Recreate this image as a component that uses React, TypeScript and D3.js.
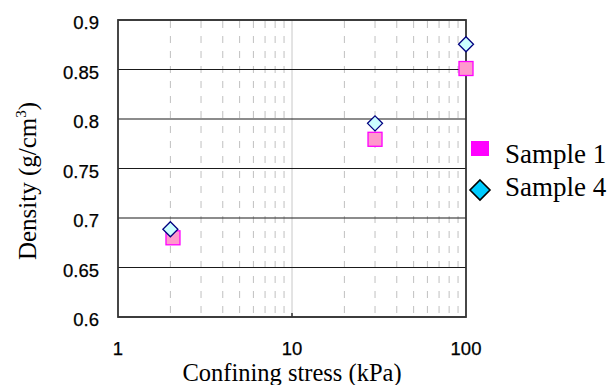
import React from "react";
import * as d3 from "d3";

const yTicks = [0.6, 0.65, 0.7, 0.75, 0.8, 0.85, 0.9];
const yTickLabels = ["0.6", "0.65", "0.7", "0.75", "0.8", "0.85", "0.9"];
const xTicks = [1, 10, 100];
const xTickLabels = ["1", "10", "100"];

const sample1X = [2.07, 30, 100];
const sample1Y = [0.68, 0.7795, 0.851];
const sample4X = [2, 30, 100];
const sample4Y = [0.6886, 0.7956, 0.8755];

const seriesNames = ["Sample 1", "Sample 4"];

const W = 612;
const H = 385;
const L = 118, R = 466, T = 20, B = 317;

export default function App() {
  const x = d3.scaleLog().domain([1, 100]).range([L, R]);
  const y = d3.scaleLinear().domain([0.6, 0.9]).range([B, T]);
  const minor = x.ticks().filter((v) => v !== 1 && v !== 10 && v !== 100);
  const sans = "'Liberation Sans', Arial, sans-serif";
  const serif = "'Liberation Serif', 'Times New Roman', serif";
  const diamond = (cx: number, cy: number, r: number) =>
    `M${cx},${cy - r}L${cx + r},${cy}L${cx},${cy + r}L${cx - r},${cy}Z`;

  return (
    <svg width={W} height={H} style={{ position: "absolute", left: 0, top: 0 }}>
      <rect x={0} y={0} width={W} height={H} fill="#fff" />
      {/* minor vertical dashed gridlines */}
      {minor.map((v) => (
        <line key={"m" + v} x1={x(v)} x2={x(v)} y1={T + 1} y2={B} stroke="#c0c0c0" strokeWidth={1} strokeDasharray="7 8" />
      ))}
      <line x1={x(10)} x2={x(10)} y1={T} y2={B} stroke="#c8c8c8" strokeWidth={1} />
      {/* horizontal gridlines */}
      {yTicks.map((v) => (
        <line key={"h" + v} x1={L} x2={R} y1={y(v)} y2={y(v)} stroke="#1a1a1a" strokeWidth={1.2} />
      ))}
      {/* frame */}
      <rect x={L} y={T} width={R - L} height={B - T} fill="none" stroke="#333" strokeWidth={1.8} />
      <line x1={x(10)} x2={x(10)} y1={B} y2={B - 4} stroke="#333" strokeWidth={1.5} />
      {/* y tick labels */}
      {yTicks.map((v, i) => (
        <text key={"yl" + v} x={99} y={y(v) + 9} textAnchor="end" fontFamily={sans} fontSize={18.5} fill="#000" stroke="#000" strokeWidth={0.25}>
          {yTickLabels[i]}
        </text>
      ))}
      {/* x tick labels */}
      {xTicks.map((v, i) => (
        <text key={"xl" + v} x={x(v)} y={355} textAnchor="middle" fontFamily={sans} fontSize={18.5} fill="#000" stroke="#000" strokeWidth={0.25}>
          {xTickLabels[i]}
        </text>
      ))}
      {/* axis titles */}
      <text x={(L + R) / 2} y={381} textAnchor="middle" fontFamily={serif} fontSize={24.5} fill="#000">
        Confining stress (kPa)
      </text>
      <text transform={`translate(36,181) rotate(-90)`} textAnchor="middle" fontFamily={serif} fontSize={25} fill="#000">
        Density (g/cm<tspan dy={-10} fontSize={15}>3</tspan><tspan dy={10}>)</tspan>
      </text>
      {/* Sample 1 squares */}
      {sample1X.map((v, i) => (
        <rect key={"s1" + i} x={x(v) - 7} y={y(sample1Y[i]) - 7} width={14} height={14} fill="#FF99CC" stroke="#FF00FF" strokeWidth={1.3} />
      ))}
      {/* Sample 4 diamonds */}
      {sample4X.map((v, i) => (
        <path key={"s4" + i} d={diamond(x(v), y(sample4Y[i]), 7.5)} fill="#CCFFFF" stroke="#000080" strokeWidth={1.3} />
      ))}
      {/* legend */}
      <rect x={471} y={141} width={18} height={15} fill="#FF00FF" />
      <path d={diamond(480, 190, 10)} fill="#00CCFF" stroke="#000" strokeWidth={1.6} />
      <text x={505} y={163} fontFamily={serif} fontSize={27} fill="#000">{seriesNames[0]}</text>
      <text x={505} y={196} fontFamily={serif} fontSize={27} fill="#000">{seriesNames[1]}</text>
    </svg>
  );
}
